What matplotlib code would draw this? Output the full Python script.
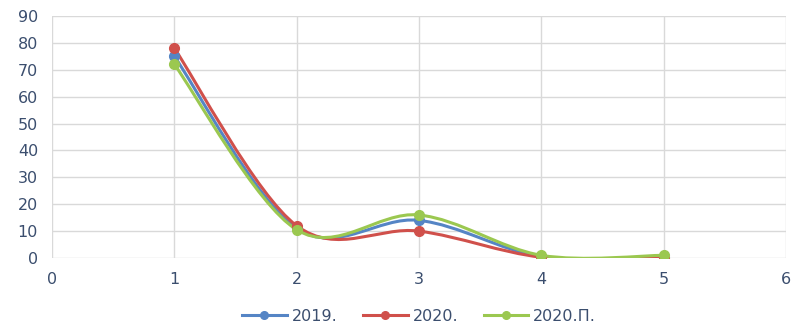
import matplotlib
matplotlib.use("Agg")
import matplotlib.pyplot as plt
from matplotlib.path import Path
from matplotlib.patches import PathPatch
from matplotlib.lines import Line2D

x = [1, 2, 3, 4, 5]
s2019 = [75, 11, 14, 0.5, 0.3]
s2020 = [78, 12, 10, 0.3, 0.0]
s2020p = [72, 10.5, 16, 1.0, 1.0]
labels = ["2019.", "2020.", "2020.П."]
colors = ["#5585C5", "#D0504B", "#9BC850"]
txt = "#3B4E6E"

fig = plt.figure(figsize=(7.93, 3.26), dpi=100)
ax = fig.add_axes([52/793, 1-258/326, (786-52)/793, (258-16)/326])

def smooth_path(xs, ys, t=1/6):
    n = len(xs)
    verts = [(xs[0], ys[0])]
    codes = [Path.MOVETO]
    for i in range(n-1):
        x0, y0 = (xs[i-1], ys[i-1]) if i > 0 else (xs[i], ys[i])
        x1, y1 = xs[i], ys[i]
        x2, y2 = xs[i+1], ys[i+1]
        x3, y3 = (xs[i+2], ys[i+2]) if i+2 < n else (xs[i+1], ys[i+1])
        c1 = (x1 + (x2-x0)*t, y1 + (y2-y0)*t)
        c2 = (x2 - (x3-x1)*t, y2 - (y3-y1)*t)
        verts += [c1, c2, (x2, y2)]
        codes += [Path.CURVE4]*3
    return Path(verts, codes)

handles = []
for ys, lab, c in zip([s2019, s2020, s2020p], labels, colors):
    ax.add_patch(PathPatch(smooth_path(x, ys), facecolor="none", edgecolor=c, lw=2.2, zorder=3))
    ax.plot(x, ys, 'o', color=c, ms=7, zorder=4)
    handles.append(Line2D([0], [0], color=c, lw=2.2, marker='o', ms=5.5))

ax.set_xlim(0, 6)
ax.set_ylim(0, 90)
ax.set_xticks(range(0, 7))
ax.set_yticks(range(0, 91, 10))
ax.grid(True, color="#D9D9D9", lw=1)
ax.set_axisbelow(True)
for sp in ax.spines.values():
    sp.set_visible(False)
ax.tick_params(length=0, colors=txt, labelsize=11.5, pad=10)
ax.tick_params(axis='x', pad=10)
ax.legend(handles, labels, loc="center", bbox_to_anchor=(0.5, -0.24), ncol=3,
          frameon=False, fontsize=11.5, labelcolor=txt, handlelength=2.8,
          columnspacing=1.6, handletextpad=0.3)

fig.savefig("out.png", dpi=100)
